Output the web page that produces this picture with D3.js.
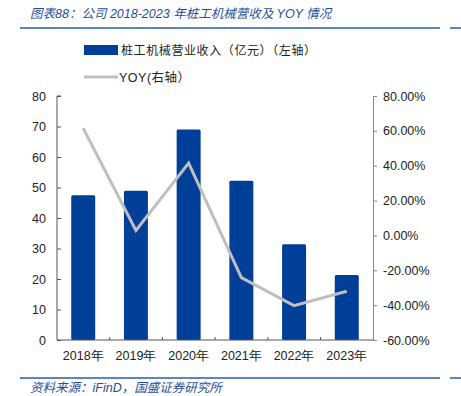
<html>
<head>
  <title>桩工机械营收及YOY</title>
  <meta charset="utf-8" />
  <style type="text/css">
    body { margin: 0; background: white; }
    svg { display: block; font-family: "Liberation Sans", Arial, "Noto Sans CJK SC", sans-serif; }
  </style>
  <script src="https://d3js.org/d3.v7.min.js" charset="utf-8" type="text/javascript"></script>
</head>
<body>
  <svg width="461" height="396"></svg>
<script>
  var years = ["2018年", "2019年", "2020年", "2021年", "2022年", "2023年"];
  var revenue = [47.5, 48.9, 69.0, 52.2, 31.4, 21.3];
  var yoy = [61.5, 2.9, 41.5, -24.2, -40.3, -32.0];
  var leftTicks = [0, 10, 20, 30, 40, 50, 60, 70, 80];
  var rightTicks = [-60, -40, -20, 0, 20, 40, 60, 80];

  var blue = "#003f98", grey = "#bfbfbf", titleBlue = "#1f4e9c";
  var svg = d3.select("svg");
  var plotL = 57, plotR = 373, plotT = 96, plotB = 340;

  var x = d3.scaleBand().domain(years).range([plotL, plotR]).paddingInner(0.545).paddingOuter(0.27);
  var yl = d3.scaleLinear().domain([0, 80]).range([plotB, plotT]);
  var yr = d3.scaleLinear().domain([-60, 80]).range([plotB, plotT]);

  // header and footer rules
  svg.append("text").attr("x", 30).attr("y", 18).text("图表88：公司 2018-2023 年桩工机械营收及 YOY 情况")
    .style("font-size", "12.5px").style("font-style", "italic").style("fill", titleBlue);
  svg.append("line").attr("x1", 20).attr("x2", 440).attr("y1", 28).attr("y2", 28).style("stroke", "#2a5caa").style("stroke-width", 1.5);
  svg.append("line").attr("x1", 450).attr("x2", 461).attr("y1", 28).attr("y2", 28).style("stroke", "#2a5caa").style("stroke-width", 1.5);
  svg.append("line").attr("x1", 20).attr("x2", 440).attr("y1", 378).attr("y2", 378).style("stroke", "#2a5caa").style("stroke-width", 1.5);
  svg.append("line").attr("x1", 450).attr("x2", 461).attr("y1", 378).attr("y2", 378).style("stroke", "#2a5caa").style("stroke-width", 1.5);
  svg.append("text").attr("x", 30).attr("y", 392).text("资料来源：iFinD，国盛证券研究所")
    .style("font-size", "12.5px").style("font-style", "italic").style("fill", titleBlue);

  // legend
  svg.append("rect").attr("x", 84).attr("y", 45).attr("width", 34).attr("height", 10).style("fill", blue);
  svg.append("text").attr("x", 121).attr("y", 55).text("桩工机械营业收入（亿元）（左轴）")
    .style("font-size", "12px").style("letter-spacing", "0.6px").style("fill", "#222");
  svg.append("line").attr("x1", 84).attr("x2", 118).attr("y1", 77).attr("y2", 77).style("stroke", grey).style("stroke-width", 3);
  svg.append("text").attr("x", 119).attr("y", 82).text("YOY(右轴）")
    .style("font-size", "12.5px").style("letter-spacing", "0.5px").style("fill", "#222");

  // bars
  svg.append("g").selectAll("rect").data(revenue).enter().append("rect")
    .attr("x", function (d, i) { return x(years[i]) })
    .attr("y", function (d) { return yl(d) })
    .attr("width", x.bandwidth())
    .attr("height", function (d) { return yl(0) - yl(d) })
    .attr("rx", 1.5)
    .style("fill", blue);

  // yoy line
  var line = d3.line()
    .x(function (d, i) { return x(years[i]) + x.bandwidth() / 2 })
    .y(function (d) { return yr(d) });
  svg.append("path").datum(yoy).attr("d", line)
    .style("fill", "none").style("stroke", grey).style("stroke-width", 3);

  // axes
  var gl = svg.append("g").attr("transform", "translate(" + plotL + ",0)")
    .call(d3.axisRight(yl).tickValues(leftTicks).tickSize(4).tickFormat(d3.format("d")));
  gl.select(".domain").attr("d", "M4," + plotT + "H0V" + plotB);
  gl.selectAll("text").attr("x", -11).style("text-anchor", "end");

  var gr = svg.append("g").attr("transform", "translate(" + plotR + ",0)")
    .call(d3.axisRight(yr).tickValues(rightTicks).tickSize(4).tickFormat(function (d) { return d.toFixed(2) + "%" }));
  gr.selectAll("text").attr("x", 10);

  var gx = svg.append("g").attr("transform", "translate(0," + plotB + ")")
    .call(d3.axisBottom(x).tickSize(0).tickPadding(11));
  gx.select(".domain").attr("d", "M" + plotL + ",0H" + plotR);
  gx.selectAll("line.sep").data(d3.range(1, years.length)).enter().append("line").attr("class", "sep")
    .attr("x1", function (i) { return x.step() * i + plotL })
    .attr("x2", function (i) { return x.step() * i + plotL })
    .attr("y1", 0).attr("y2", -3).style("stroke", "#555");

  svg.selectAll(".tick text").style("font-size", "12.5px").style("fill", "#222");
  svg.selectAll(".domain, .tick line").style("stroke", "#555");
  gr.selectAll(".domain, .tick line").style("stroke", "#888");
</script>
</body>
</html>
